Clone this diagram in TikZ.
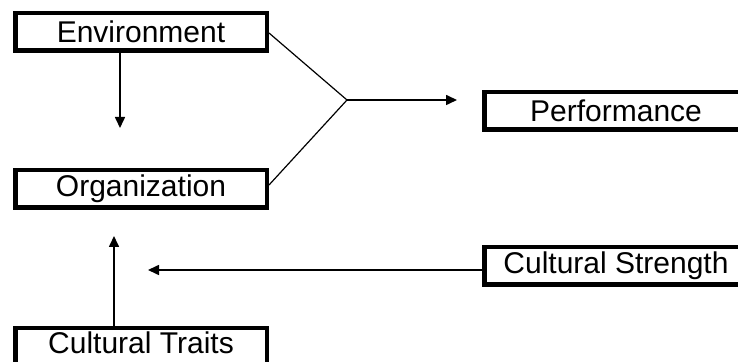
\documentclass[tikz,border=0pt]{standalone}
\usepackage{fontspec}
\setmainfont{Liberation Sans}
\usepackage{tikz}
\usetikzlibrary{arrows.meta,positioning,calc}

\begin{document}
\begin{tikzpicture}[
    x=0.5pt, y=-0.5pt,
    box1/.style={rectangle, draw=black, fill=white, line width=2.25pt, line join=miter, align=center, minimum height=18.75pt, minimum width=125.75pt, inner sep=0pt, font=\fontsize{15}{18}\selectfont},
    box2/.style={box1, minimum width=131.75pt},
    arrow/.style={-{Triangle[length=5.5pt, width=5pt]}, line width=0.8pt, draw=black},
    link/.style={line width=0.6pt, draw=black}
]
    \clip (0,0) rectangle (738,362);

    \node [box1] (env) at (141,32) {Environment};
    \node [box1] (org) at (141,189) {Organization};
    \node [box1, anchor=north, text height=12.8pt, text depth=12pt] (traits) at (141,326) {Cultural Traits};
    \node [box2] (perf) at (616,111) {Performance};
    \node [box2] (strength) at (616,266) {Cultural Strength};

    \coordinate (envtip) at (120,128);
    \coordinate (traitstip) at (114,236);
    \coordinate (join) at (347,100);
    \coordinate (perftip) at (457,100);
    \coordinate (strengthtip) at (148,270);

    \draw [arrow] (env.south -| envtip) -- (envtip);
    \draw [link] ([yshift=-0.5pt]env.east) -- (join) -- ([yshift=2pt]org.east);
    \draw [arrow] (join) -- (perftip);
    \draw [arrow] (traits.north -| traitstip) -- (traitstip);
    \draw [arrow] (strength.west |- strengthtip) -- (strengthtip);
\end{tikzpicture}
\end{document}
